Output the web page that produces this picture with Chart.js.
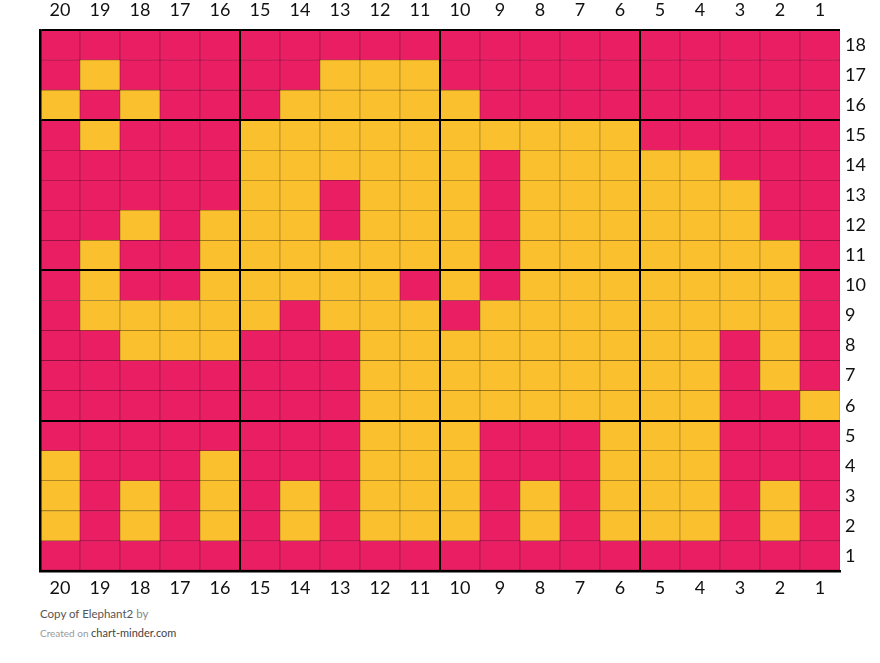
<!DOCTYPE html>
<html>
<head>
<meta charset="utf-8">
<script src="https://cdn.jsdelivr.net/npm/chart.js@4.4.0/dist/chart.umd.min.js"></script>
<style>
  body { margin: 0; background: #fff; font-family: Lato, sans-serif; }
  #wrap { position: absolute; left: 0; top: 0; width: 880px; height: 601px; }
  #foot1 { position: absolute; left: 40px; top: 607px; font-size: 11.5px; color: #555; }
  #foot1 span { color: #888; }
  #foot2 { position: absolute; left: 40px; top: 626px; font-size: 10px; color: #999; }
  #foot2 span { font-size: 11px; color: #444; }
</style>
</head>
<body>
<div id="wrap"><canvas id="grafico"></canvas></div>
<div id="foot1">Copy of Elephant2 <span>by</span></div>
<div id="foot2">Created on <span>chart-minder.com</span></div>
<script>
// colunas da esquerda para a direita, linhas de cima para baixo
var colunas = ['20','19','18','17','16','15','14','13','12','11','10','9','8','7','6','5','4','3','2','1'];
var linhas = ['18','17','16','15','14','13','12','11','10','9','8','7','6','5','4','3','2','1'];

// P = rosa, Y = amarelo (uma string por linha, de 18 até 1)
var padrao = [
    'PPPPPPPPPPPPPPPPPPPP',
    'PYPPPPPYYYPPPPPPPPPP',
    'YPYPPPYYYYYPPPPPPPPP',
    'PYPPPYYYYYYYYYYPPPPP',
    'PPPPPYYYYYYPYYYYYPPP',
    'PPPPPYYPYYYPYYYYYYPP',
    'PPYPYYYPYYYPYYYYYYPP',
    'PYPPYYYYYYYPYYYYYYYP',
    'PYPPYYYYYPYPYYYYYYYP',
    'PYYYYYPYYYPYYYYYYYYP',
    'PPYYYPPPYYYYYYYYYPYP',
    'PPPPPPPPYYYYYYYYYPYP',
    'PPPPPPPPYYYYYYYYYPPY',
    'PPPPPPPPYYYPPPYYYPPP',
    'YPPPYPPPYYYPPPYYYPPP',
    'YPYPYPYPYYYPYPYYYPYP',
    'YPYPYPYPYYYPYPYYYPYP',
    'PPPPPPPPPPPPPPPPPPPP'
];

var cores = { P: '#E91E63', Y: '#FBC02D' };
var bordas = { P: '#7A0F37', Y: '#7C5F18' };

// cada linha é um dataset empilhado de altura 1; a primeira fica em baixo
var datasets = [];
for (var i = padrao.length - 1; i >= 0; i--) {
    var celulas = padrao[i].split('');
    datasets.push({
        label: linhas[i],
        data: colunas.map(function () { return 1; }),
        backgroundColor: celulas.map(function (c) { return cores[c]; }),
        borderColor: celulas.map(function (c) { return bordas[c]; }),
        borderWidth: 0.6,
        borderSkipped: false,
        barPercentage: 1,
        categoryPercentage: 1
    });
}

var fonteTicks = { family: 'Lato, sans-serif', size: 18 };

var myChart = new Chart(document.getElementById('grafico'), {
    type: 'bar',
    data: { labels: colunas, datasets: datasets },
    options: {
        responsive: true,
        maintainAspectRatio: false,
        animation: false,
        layout: { padding: 0 },
        plugins: { legend: { display: false }, tooltip: { enabled: false } },
        scales: {
            x: {
                stacked: true,
                position: 'bottom',
                afterFit: function (s) { s.height = 30; },
                grid: {
                    z: 1,
                    offset: true,
                    drawTicks: false,
                    lineWidth: 2,
                    color: function (ctx) { return ctx.index % 5 === 0 ? '#000' : 'rgba(0,0,0,0)'; }
                },
                border: { display: true, color: '#000', width: 2.5, z: 1 },
                ticks: { color: '#111', font: fonteTicks, padding: 6 }
            },
            xTopo: {
                type: 'category',
                labels: colunas,
                position: 'top',
                offset: true,
                afterFit: function (s) { s.height = 30; },
                grid: { display: false, drawTicks: false },
                border: { display: false },
                ticks: { color: '#111', font: fonteTicks, padding: 9 }
            },
            y: {
                stacked: true,
                min: 0,
                max: 18,
                afterFit: function (s) { s.width = 40; },
                ticks: { display: false, stepSize: 1 },
                grid: {
                    z: 1,
                    drawTicks: false,
                    lineWidth: 2,
                    color: function (ctx) {
                        var v = ctx.tick.value;
                        return (v % 5 === 0 || v === 18) ? '#000' : 'rgba(0,0,0,0)';
                    }
                },
                border: { display: true, color: '#000', width: 2.5, z: 1 }
            },
            yDir: {
                type: 'category',
                labels: linhas,
                position: 'right',
                offset: true,
                afterFit: function (s) { s.width = 40; },
                grid: { display: false, drawTicks: false },
                border: { display: false },
                ticks: { color: '#111', font: fonteTicks, padding: 5 }
            }
        }
    }
});
</script>
</body>
</html>
